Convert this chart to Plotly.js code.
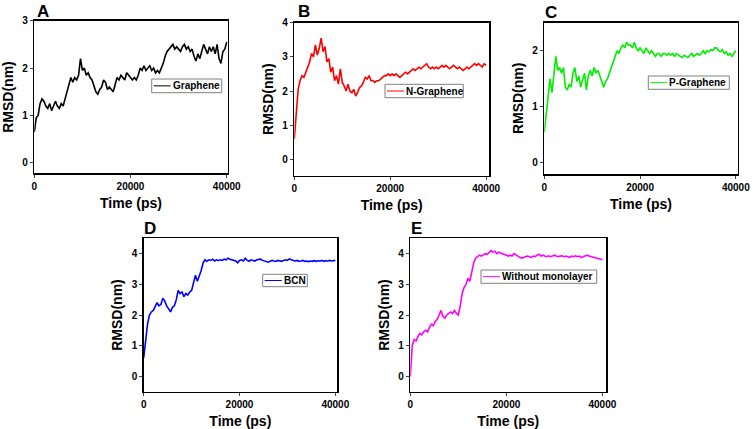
<!DOCTYPE html>
<html>
<head>
<meta charset="utf-8">
<script src="https://cdn.plot.ly/plotly-3.0.1.min.js"></script>
<style>html,body{margin:0;padding:0;background:#fff;}#chart{width:753px;height:429px;}</style>
</head>
<body>
<div id="chart"></div>
<script>
// Time axis (ps)
const time = [0,400,800,1200,1600,2000,2400,2800,3200,3600,
4000,4400,4800,5200,5600,6000,6400,6800,7200,7600,
8000,8400,8800,9200,9600,10000,10400,10800,11200,11600,
12000,12400,12800,13200,13600,14000,14400,14800,15200,15600,
16000,16400,16800,17200,17600,18000,18400,18800,19200,19600,
20000,20400,20800,21200,21600,22000,22400,22800,23200,23600,
24000,24400,24800,25200,25600,26000,26400,26800,27200,27600,
28000,28400,28800,29200,29600,30000,30400,30800,31200,31600,
32000,32400,32800,33200,33600,34000,34400,34800,35200,35600,
36000,36400,36800,37200,37600,38000,38400,38800,39200,39600,
40000];

const graphene = [0.65,0.95,1.00,1.25,1.35,1.30,1.20,1.15,1.25,1.10,
1.20,1.30,1.20,1.15,1.25,1.20,1.35,1.50,1.65,1.80,
1.70,1.80,1.75,1.85,2.20,1.95,2.00,1.85,1.90,1.80,
1.75,1.60,1.50,1.45,1.55,1.60,1.75,1.70,1.55,1.60,
1.55,1.50,1.65,1.80,1.75,1.85,1.80,1.75,1.90,1.85,
1.80,1.75,1.80,1.75,1.85,2.00,1.95,2.05,1.95,2.00,
2.05,1.95,2.00,1.90,1.95,1.90,2.00,2.10,2.25,2.35,
2.40,2.45,2.50,2.40,2.45,2.40,2.35,2.45,2.50,2.40,
2.45,2.35,2.40,2.25,2.15,2.30,2.20,2.35,2.50,2.40,
2.30,2.45,2.35,2.45,2.30,2.50,2.20,2.10,2.35,2.40,
2.55];

const nGraphene = [0.60,1.50,2.05,2.30,2.45,2.40,2.55,2.75,2.85,3.10,
3.00,3.35,3.05,3.25,3.55,3.15,3.30,2.85,2.95,2.55,
2.70,2.30,2.45,2.20,2.65,2.25,2.15,2.00,2.20,2.00,
1.95,2.05,1.85,1.95,2.10,2.15,2.25,2.40,2.35,2.45,
2.30,2.30,2.25,2.30,2.30,2.35,2.40,2.45,2.45,2.50,
2.45,2.50,2.45,2.50,2.45,2.40,2.45,2.50,2.55,2.50,
2.55,2.60,2.65,2.60,2.65,2.70,2.65,2.70,2.75,2.80,
2.70,2.65,2.70,2.65,2.70,2.65,2.70,2.75,2.70,2.75,
2.70,2.65,2.70,2.75,2.70,2.65,2.70,2.65,2.60,2.65,
2.70,2.65,2.70,2.75,2.80,2.75,2.80,2.75,2.70,2.80,
2.75];

const pGraphene = [0.55,0.90,1.20,1.50,1.25,1.55,1.90,1.65,1.70,1.60,
1.70,1.35,1.30,1.40,1.35,1.60,1.70,1.45,1.55,1.35,
1.50,1.60,1.30,1.55,1.65,1.55,1.70,1.60,1.65,1.55,
1.45,1.35,1.45,1.50,1.60,1.70,1.80,1.90,2.00,1.95,
2.05,2.10,2.05,2.15,2.10,2.10,2.05,2.15,2.05,2.00,
2.05,2.00,1.95,2.05,2.00,1.95,2.00,1.95,1.90,1.95,
1.95,1.90,1.95,1.95,1.92,1.95,1.92,1.95,1.90,1.95,
1.92,1.90,1.88,1.92,1.90,1.88,1.92,1.95,1.90,1.92,
1.95,1.92,1.95,2.00,1.95,2.00,1.98,2.02,2.00,2.05,
2.05,2.00,1.98,2.02,1.95,1.98,1.92,1.95,1.90,1.95,
2.00];

const bcn = [0.60,1.20,1.70,2.00,2.10,2.15,2.30,2.40,2.30,2.35,
2.55,2.45,2.30,2.20,2.10,2.25,2.30,2.50,2.80,2.70,
2.75,2.60,2.70,2.65,2.75,2.80,3.05,3.30,3.10,3.25,
3.45,3.70,3.80,3.75,3.80,3.78,3.82,3.76,3.80,3.78,
3.80,3.78,3.82,3.80,3.85,3.82,3.80,3.78,3.76,3.70,
3.78,3.80,3.76,3.85,3.78,3.75,3.80,3.78,3.76,3.80,
3.80,3.82,3.78,3.76,3.75,3.72,3.75,3.78,3.76,3.75,
3.78,3.76,3.75,3.78,3.80,3.78,3.83,3.80,3.78,3.76,
3.78,3.75,3.76,3.78,3.75,3.76,3.74,3.76,3.75,3.77,
3.75,3.77,3.76,3.78,3.75,3.77,3.76,3.78,3.76,3.78,
3.78];

const withoutMonolayer = [0.00,1.00,1.20,1.15,1.30,1.40,1.35,1.45,1.50,1.45,
1.60,1.70,1.65,1.80,1.85,2.00,2.15,1.95,1.90,2.00,
2.05,2.10,2.05,2.15,2.05,2.00,2.30,2.70,2.90,3.00,
3.20,3.10,3.40,3.70,3.85,3.90,3.95,3.92,3.95,4.00,
3.98,4.05,4.10,4.05,4.08,4.00,4.05,4.02,4.00,3.98,
3.95,3.92,3.95,3.92,4.00,3.95,3.90,3.88,3.85,3.88,
3.90,3.92,3.90,3.88,3.92,3.90,3.95,3.98,3.92,3.95,
3.92,3.90,3.93,3.90,3.92,3.95,3.92,3.90,3.92,3.93,
3.90,3.92,3.90,3.88,3.92,3.90,3.93,3.90,3.92,3.88,
3.90,3.92,3.95,3.92,3.90,3.88,3.87,3.85,3.83,3.82,
3.80];

const seriesNames = ["Graphene","N-Graphene","P-Graphene","BCN","Without monolayer"];
const seriesColors = ["#000000","#ff0000","#00ee00","#0000ff","#ff00ff"];
const panelLetters = ["A","B","C","D","E"];
const xTicks = [0,20000,40000];
const yTicksList = [[0,1,2,3],[0,1,2,3,4],[0,1,2],[0,1,2,3,4],[0,1,2,3,4]];

const allY = [graphene,nGraphene,pGraphene,bcn,withoutMonolayer];

// layout geometry (px) for each panel: [left,right,top,bottom]
const W = 753, H = 429;
const boxes = [[34.3,227.7,20.7,173.3],[294.3,489,22.7,175.7],[544.3,737.7,22.7,174],[143.7,337,238.3,391.7],[410.3,606,238.3,391.7]];
const xRanges = [[0,40200],[0,40600],[0,40400],[0,40350],[0,40750]];
const yRanges = [[-0.22,3],[-0.48,4],[-0.2,2.5],[-0.5,4.5],[-0.5,4.5]];
// legend boxes [x0,x1,y0,y1] px, sample line length
const legendBoxes = [[151.7,221.7,79,92.7],[385,463.3,84.3,97.7],[648.3,729.3,76,89.3],[262.7,307.3,274.3,286.7],[481,596.7,270,283.3]];
const letterPos = [[37,11],[298,11],[545,12.5],[144,228],[411,228]];

const FONT = "Liberation Sans, Arial, sans-serif";
const px = v => v / W;
const py = v => 1 - v / H;
const traces = [];
const layout = {
  width: W, height: H,
  margin: {l:0,r:0,t:0,b:0},
  paper_bgcolor: "#fff", plot_bgcolor: "#fff",
  font: {family: FONT, color: "#000"},
  annotations: [], shapes: [],
  showlegend: false
};

for (let i = 0; i < 5; i++) {
  const sfx = i === 0 ? "" : String(i+1);
  traces.push({
    x: time, y: allY[i], type: "scatter", mode: "lines",
    name: seriesNames[i],
    line: {color: seriesColors[i], width: 1.6},
    xaxis: "x" + sfx, yaxis: "y" + sfx
  });
  const b = boxes[i];
  layout["xaxis" + sfx] = {
    domain: [px(b[0]), px(b[1])],
    range: xRanges[i], anchor: "y" + sfx,
    showline: true, mirror: true, linecolor: "#000", linewidth: 1.5,
    showgrid: false, zeroline: false,
    tickvals: xTicks, ticktext: xTicks.map(String),
    ticks: "outside", ticklen: 3, tickwidth: 1,
    tickfont: {family: FONT, size: 10, weight: "bold"},
    title: {text: "Time (ps)", font: {family: FONT, size: 14, weight: "bold"}, standoff: 7},
    automargin: false, fixedrange: true
  };
  layout["yaxis" + sfx] = {
    domain: [py(b[3]), py(b[2])],
    range: yRanges[i], anchor: "x" + sfx,
    showline: true, mirror: true, linecolor: "#000", linewidth: 1.5,
    showgrid: false, zeroline: false,
    tickvals: yTicksList[i],
    ticks: "outside", ticklen: 3, tickwidth: 1,
    tickfont: {family: FONT, size: 10, weight: "bold"},
    title: {text: "RMSD(nm)", font: {family: FONT, size: 14, weight: "bold"}, standoff: 5},
    automargin: false, fixedrange: true
  };
  // legend box
  const lb = legendBoxes[i];
  const cy = (lb[2] + lb[3]) / 2;
  layout.shapes.push({
    type: "rect", xref: "paper", yref: "paper",
    x0: px(lb[0]), x1: px(lb[1]), y0: py(lb[3]), y1: py(lb[2]),
    line: {color: "#808080", width: 1}, fillcolor: "#fff", layer: "above"
  });
  layout.shapes.push({
    type: "line", xref: "paper", yref: "paper",
    x0: px(lb[0] + 2), x1: px(lb[0] + 19), y0: py(cy), y1: py(cy),
    line: {color: seriesColors[i], width: 1}, layer: "above"
  });
  layout.annotations.push({
    text: seriesNames[i], xref: "paper", yref: "paper",
    x: px(lb[0] + 20), y: py(cy), xanchor: "left", yanchor: "middle",
    showarrow: false, borderpad: 0,
    font: {family: FONT, size: 10, weight: "bold", color: "#000"}
  });
  const lp = letterPos[i];
  layout.annotations.push({
    text: panelLetters[i], xref: "paper", yref: "paper",
    x: px(lp[0] - 1), y: py(lp[1]), xanchor: "left", yanchor: "middle",
    showarrow: false, borderpad: 0,
    font: {family: FONT, size: 17, weight: "bold", color: "#000"}
  });
}

Plotly.newPlot("chart", traces, layout, {staticPlot: true, displayModeBar: false});
</script>
</body>
</html>
